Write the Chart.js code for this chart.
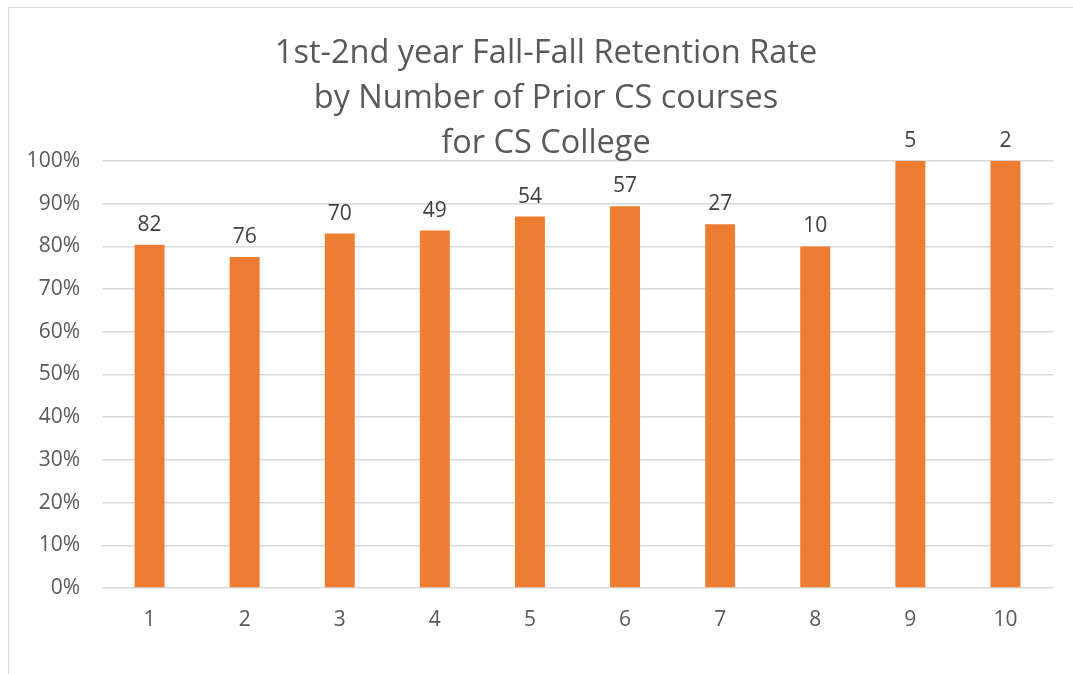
<!DOCTYPE html>
<html>
<head>
<meta charset="utf-8">
<script src="https://cdn.jsdelivr.net/npm/chart.js@4/dist/chart.umd.min.js"></script>
<style>
  html, body { margin: 0; padding: 0; background: #fff; overflow: hidden; }
  #wrap { position: relative; width: 1073px; height: 674px; }
  #frame { position: absolute; left: 8px; top: 7px; width: 1100px; height: 700px;
           border-left: 1px solid #d9d9d9; border-top: 1px solid #d9d9d9; }
  #chart { position: absolute; left: 0; top: 0; }
</style>
</head>
<body>
<div id="wrap">
  <div id="frame"></div>
  <canvas id="chart" width="1073" height="674"></canvas>
</div>
<script>
const titleLines = ['1st-2nd year Fall-Fall Retention Rate', 'by Number of Prior CS courses', 'for CS College'];
const courses = ['1', '2', '3', '4', '5', '6', '7', '8', '9', '10'];
const retention = [0.804, 0.775, 0.830, 0.837, 0.870, 0.894, 0.852, 0.800, 1.0, 1.0];
const students = [82, 76, 70, 49, 54, 57, 27, 10, 5, 2];

const FONT = "'Open Sans', sans-serif";

// draws the student counts above each bar
const countLabels = {
  id: 'countLabels',
  afterDatasetsDraw(chart) {
    const c = chart.ctx;
    const meta = chart.getDatasetMeta(0);
    c.save();
    c.font = '21px ' + FONT;
    c.fillStyle = '#404040';
    c.textAlign = 'center';
    c.textBaseline = 'alphabetic';
    meta.data.forEach((bar, i) => {
      c.fillText(String(students[i]), bar.x, bar.y - 14);
    });
    c.restore();
  }
};

// title drawn by hand so it can overlap the top of the plot like the original
const bigTitle = {
  id: 'bigTitle',
  afterDraw(chart) {
    const c = chart.ctx;
    c.save();
    c.font = '32.5px ' + FONT;
    c.fillStyle = '#595959';
    c.textAlign = 'center';
    c.textBaseline = 'alphabetic';
    titleLines.forEach((t, i) => c.fillText(t, 546, 63 + i * 45));
    c.restore();
  }
};

const ctx = document.getElementById('chart').getContext('2d');

new Chart(ctx, {
  type: 'bar',
  data: {
    labels: courses,
    datasets: [{
      data: retention,
      backgroundColor: '#ED7D31',
      borderWidth: 0,
      categoryPercentage: 1,
      barPercentage: 0.315
    }]
  },
  options: {
    responsive: false,
    animation: false,
    layout: { padding: { left: 0, right: 20, top: 161, bottom: 0 } },
    plugins: {
      legend: { display: false },
      title: { display: false },
      tooltip: { enabled: false }
    },
    scales: {
      x: {
        grid: { display: false, drawTicks: false },
        border: { display: false },
        ticks: { color: '#595959', font: { family: FONT, size: 21 }, padding: 19 },
        afterFit(scale) { scale.height = 86; }
      },
      y: {
        min: 0,
        max: 1,
        ticks: {
          stepSize: 0.1,
          color: '#595959',
          font: { family: FONT, size: 21 },
          padding: 22,
          callback: v => Math.round(v * 100) + '%'
        },
        grid: { color: '#d9d9d9', lineWidth: 1.5, drawTicks: false },
        border: { display: false },
        afterFit(scale) { scale.width = 102; }
      }
    }
  },
  plugins: [countLabels, bigTitle]
});
</script>
</body>
</html>
